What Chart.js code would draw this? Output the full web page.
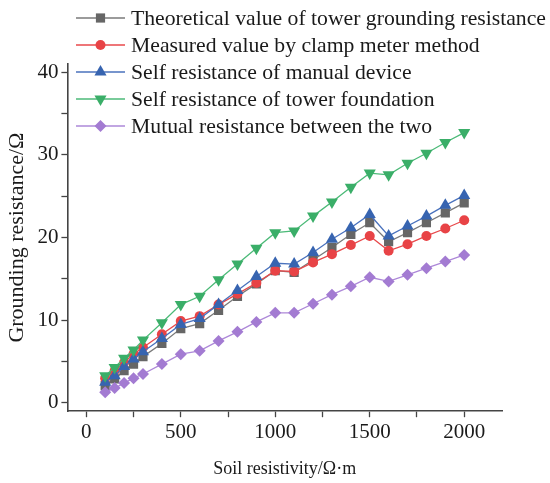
<!DOCTYPE html>
<html>
<head>
<meta charset="utf-8">
<script src="https://cdn.jsdelivr.net/npm/chart.js@4.4.1/dist/chart.umd.min.js"></script>
<style>
html,body{margin:0;padding:0;background:#fff;}
#wrap{width:550px;height:483px;}
</style>
</head>
<body>
<div id="wrap"><canvas id="c" width="550" height="483"></canvas></div>
<script>
// ---- data ----
const soilResistivity = [100,150,200,250,300,400,500,600,700,800,900,1000,1100,1200,1300,1400,1500,1600,1700,1800,1900,2000];
const theoreticalValue = [2.1,2.9,3.9,4.7,5.6,7.2,9.0,9.6,11.2,12.9,14.4,16.0,15.8,17.3,18.8,20.4,21.8,19.5,20.6,21.8,23.0,24.2];
const clampMeterValue = [3.0,3.9,4.9,5.9,6.7,8.3,9.9,10.5,11.9,13.2,14.5,16.0,15.9,17.0,18.0,19.1,20.2,18.4,19.2,20.2,21.1,22.1];
const manualDeviceSelf = [2.5,3.3,4.4,5.3,6.2,7.8,9.5,10.2,11.9,13.6,15.3,16.9,16.8,18.2,19.8,21.2,22.8,20.2,21.4,22.6,23.9,25.1];
const towerFoundationSelf = [3.3,4.3,5.4,6.4,7.6,9.7,11.9,12.9,14.9,16.8,18.7,20.6,20.8,22.6,24.3,26.1,27.8,27.6,29.0,30.2,31.5,32.7];
const mutualResistance = [1.3,1.8,2.4,3.0,3.5,4.7,5.9,6.3,7.5,8.6,9.8,10.9,10.9,12.0,13.1,14.1,15.2,14.7,15.5,16.3,17.1,17.9];
const seriesNames = [
  'Theoretical value of tower grounding resistance',
  'Measured value by clamp meter method',
  'Self resistance of manual device',
  'Self resistance of tower foundation',
  'Mutual resistance between the two'
];
const xTickValues = [0,250,500,750,1000,1250,1500,1750,2000];
const yTickValues = [0,5,10,15,20,25,30,35,40];

const FONT = "'Liberation Serif','Times New Roman',serif";
const styles = [
  {line:'#7a7a7a', fill:'#666666', style:'rect', radius:6.5, rot:0},
  {line:'#e8494b', fill:'#e84346', style:'circle', radius:5, rot:0},
  {line:'#4a72bd', fill:'#3764b0', style:'triangle', radius:7, rot:0},
  {line:'#4cba78', fill:'#3aae68', style:'triangle', radius:7, rot:180},
  {line:'#ad88d8', fill:'#a37bd2', style:'rectRot', radius:6, rot:0}
];
const seriesValues = [theoreticalValue, clampMeterValue, manualDeviceSelf, towerFoundationSelf, mutualResistance];

const datasets = seriesValues.map((vals, i) => ({
  label: seriesNames[i],
  data: soilResistivity.map((x, k) => ({x: x, y: vals[k]})),
  borderColor: styles[i].line,
  backgroundColor: styles[i].fill,
  borderWidth: 1.3,
  pointStyle: styles[i].style,
  pointRadius: styles[i].radius,
  pointRotation: styles[i].rot,
  pointBackgroundColor: styles[i].fill,
  pointBorderColor: styles[i].fill,
  pointBorderWidth: 0,
  tension: 0,
  order: 4 - i
}));

function drawMarker(ctx, st, x, y) {
  if (Chart.helpers && Chart.helpers.drawPoint) {
    ctx.save();
    ctx.fillStyle = st.fill;
    ctx.strokeStyle = st.fill;
    ctx.lineWidth = 0;
    Chart.helpers.drawPoint(ctx, {pointStyle: st.style, radius: st.radius, rotation: st.rot, borderWidth: 0}, x, y);
    ctx.restore();
  }
}

const legendPlugin = {
  id: 'customLegend',
  afterDraw(chart) {
    const ctx = chart.ctx;
    const x0 = 76, x1 = 125, xm = 100.5, tx = 131;
    const rows = [18, 45, 72, 99, 126];
    ctx.save();
    ctx.font = "21.7px " + FONT;
    ctx.textBaseline = 'middle';
    ctx.textAlign = 'left';
    seriesNames.forEach((name, i) => {
      const y = rows[i];
      ctx.strokeStyle = styles[i].line;
      ctx.lineWidth = 1.3;
      ctx.beginPath();
      ctx.moveTo(x0, y);
      ctx.lineTo(x1, y);
      ctx.stroke();
      drawMarker(ctx, styles[i], xm, y);
      ctx.fillStyle = '#1a1a1a';
      ctx.fillText(name, tx, y + 1);
    });
    ctx.restore();
  }
};

new Chart(document.getElementById('c'), {
  type: 'line',
  data: {datasets: datasets},
  options: {
    responsive: false,
    animation: false,
    events: [],
    layout: {padding: {left: 0, right: 48, top: 64, bottom: 1}},
    plugins: {legend: {display: false}, tooltip: {enabled: false}},
    scales: {
      x: {
        type: 'linear',
        min: -100,
        max: 2200,
        afterBuildTicks: (scale) => { scale.ticks = xTickValues.map(v => ({value: v})); },
        ticks: {
          autoSkip: false,
          maxRotation: 0,
          padding: 3,
          color: '#1a1a1a',
          font: {family: FONT, size: 21},
          callback: (v) => (v % 500 === 0 ? String(v) : '')
        },
        grid: {drawOnChartArea: false, drawTicks: true, tickLength: 6, tickColor: '#444', tickWidth: 1.3},
        border: {display: true, color: '#444', width: 1.6},
        title: {display: true, text: 'Soil resistivity/Ω·m', color: '#1a1a1a', font: {family: FONT, size: 18}, padding: {top: 10, bottom: 2}}
      },
      y: {
        type: 'linear',
        min: -1,
        max: 41,
        afterBuildTicks: (scale) => { scale.ticks = yTickValues.map(v => ({value: v})); },
        ticks: {
          autoSkip: false,
          padding: 3,
          color: '#1a1a1a',
          font: {family: FONT, size: 21},
          callback: (v) => (v % 10 === 0 ? String(v) : '')
        },
        grid: {drawOnChartArea: false, drawTicks: true, tickLength: 6, tickColor: '#444', tickWidth: 1.3},
        border: {display: true, color: '#444', width: 1.6},
        title: {display: true, text: 'Grounding resistance/Ω', color: '#1a1a1a', font: {family: FONT, size: 22}, padding: {top: 4, bottom: 4}}
      }
    }
  },
  plugins: [legendPlugin]
});
</script>
</body>
</html>
